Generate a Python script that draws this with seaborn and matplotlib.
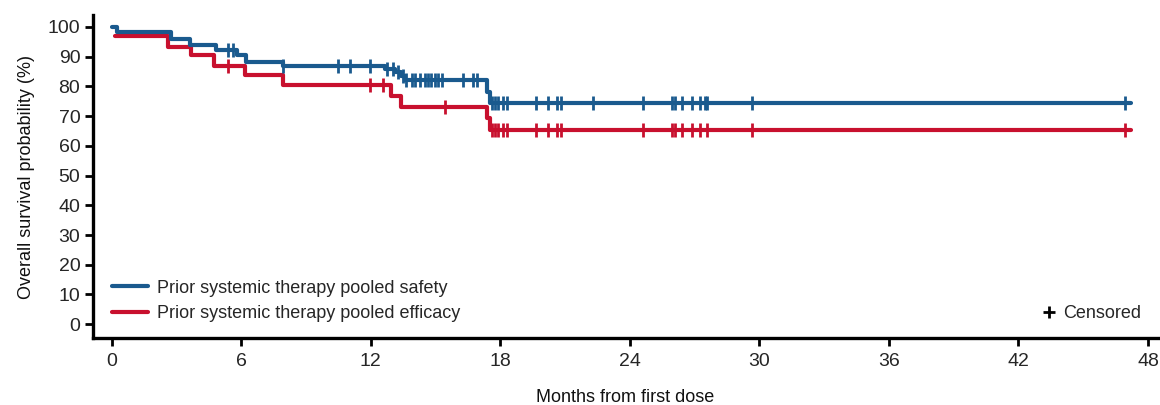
import numpy as np
import pandas as pd
import matplotlib
matplotlib.use("Agg")
import matplotlib.pyplot as plt
from matplotlib.lines import Line2D
import seaborn as sns

# Kaplan-Meier step data (months, OS %)
safety_label = "Prior systemic therapy pooled safety"
efficacy_label = "Prior systemic therapy pooled efficacy"

safety_time = [0, 0.25, 2.73, 3.61, 4.85, 5.78, 6.24, 7.94, 12.65, 13.1, 13.38, 13.58, 17.36, 17.52, 47.2]
safety_surv = [100, 98.2, 96.0, 93.9, 92.3, 90.6, 88.3, 86.7, 85.9, 84.7, 83.6, 82.0, 78.0, 74.3, 74.3]
safety_cens = [5.4, 5.6, 7.94, 10.5, 11.05, 11.96, 12.73, 13.03, 13.26, 13.5, 13.65, 13.9, 14.05,
               14.27, 14.5, 14.65, 14.81, 14.97, 15.13, 15.28, 16.28, 16.75, 16.9, 17.6, 17.75,
               17.9, 18.1, 18.3, 19.65, 20.2, 20.63, 20.79, 22.3, 24.62, 25.93, 26.09, 26.4,
               26.86, 27.25, 27.48, 27.56, 29.64, 46.94]

efficacy_time = [0.14, 2.61, 3.65, 4.74, 6.19, 7.94, 12.93, 13.42, 17.36, 17.52, 47.2]
efficacy_surv = [96.8, 93.4, 90.6, 87.0, 83.8, 80.6, 76.8, 73.0, 69.2, 65.2, 65.2]
efficacy_cens = [5.38, 11.96, 12.57, 15.43, 17.6, 17.75, 17.9, 18.1, 18.3, 19.65, 20.2, 20.63,
                 20.79, 24.62, 25.93, 26.09, 26.4, 26.86, 27.25, 27.56, 29.64, 46.94]

x_ticks = [0, 6, 12, 18, 24, 30, 36, 42, 48]
y_ticks = [0, 10, 20, 30, 40, 50, 60, 70, 80, 90, 100]

blue = "#1a5a8e"
red = "#c8102e"

sns.set_style("ticks")
plt.rcParams["font.family"] = ["Liberation Sans", "DejaVu Sans"]


def step_value(times, surv, t):
    idx = np.searchsorted(times, t, side="right") - 1
    return np.asarray(surv)[idx]


fig = plt.figure(figsize=(11.6, 4.05), dpi=100)
ax = fig.add_axes([0.080, 0.165, 0.918, 0.798])

curves = [
    (efficacy_label, efficacy_time, efficacy_surv, efficacy_cens, red),
    (safety_label, safety_time, safety_surv, safety_cens, blue),
]
for label, t, s, c, col in curves:
    df = pd.DataFrame({"month": t, "surv": s})
    sns.lineplot(data=df, x="month", y="surv", drawstyle="steps-post", color=col,
                 linewidth=3.0, estimator=None, ax=ax)
    cens = pd.DataFrame({"month": c, "surv": step_value(t, s, c)})
    sns.scatterplot(data=cens, x="month", y="surv", marker="|", s=100, color=col,
                    linewidth=2.0, ax=ax, zorder=3)

ax.set_xlim(-0.88, 48.45)
ax.set_ylim(-4.7, 104)
ax.set_xticks(x_ticks)
ax.set_yticks(y_ticks)
ax.tick_params(axis="both", labelsize=14, width=2, length=6, color="black")
ax.tick_params(axis="x", pad=5)
ax.tick_params(axis="y", pad=3)
for side in ["left", "bottom"]:
    ax.spines[side].set_linewidth(2.4)
    ax.spines[side].set_color("black")
sns.despine(ax=ax)

ax.set_xlabel("Months from first dose", fontsize=13, labelpad=13, color="#111111")
ax.set_ylabel("Overall survival probability (%)", fontsize=13, labelpad=9, color="#111111")

handles = [Line2D([], [], color=blue, lw=3.0), Line2D([], [], color=red, lw=3.0)]
leg = ax.legend(handles, [safety_label, efficacy_label], loc="lower left",
                bbox_to_anchor=(0.003, 0.0), frameon=False, fontsize=13,
                handlelength=2.0, handletextpad=0.5, labelspacing=0.45)
ax.add_artist(leg)
cens_handle = Line2D([], [], color="black", marker="+", linestyle="none",
                     markersize=9, markeredgewidth=2.0)
ax.legend([cens_handle], ["Censored"], loc="lower right", bbox_to_anchor=(1.0, 0.0),
          frameon=False, fontsize=13, handlelength=0.8, handletextpad=0.4)

fig.savefig("out.png", dpi=100)
